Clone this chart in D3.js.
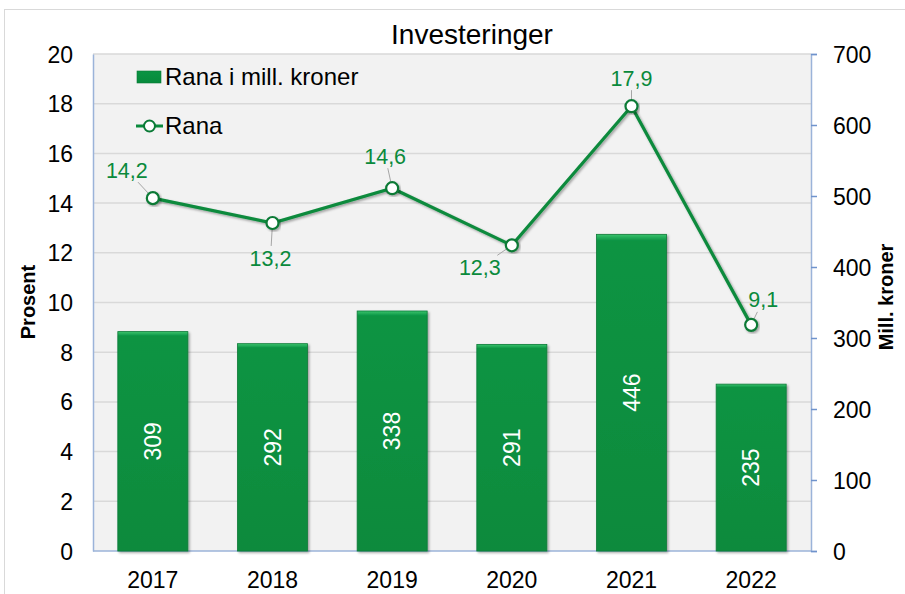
<!DOCTYPE html>
<html><head><meta charset="utf-8">
<script src="https://cdn.jsdelivr.net/npm/d3@7"></script>
<style>body{margin:0;background:#fff;font-family:"Liberation Sans",Arial,sans-serif;}</style>
</head><body><svg id="c" width="905" height="594"></svg>
<script>
const years = ["2017","2018","2019","2020","2021","2022"];
const millKroner = [309,292,338,291,446,235];
const prosent = [14.2,13.2,14.6,12.3,17.9,9.1];
const leftTicks = [0,2,4,6,8,10,12,14,16,18,20];
const rightTicks = [0,100,200,300,400,500,600,700];
// label offsets for line data labels [dx, dy]
const lblPos = [[-26,-28],[-2,35],[-7,-32],[-32,22],[0,-28],[12,-25]];

const svg = d3.select("#c");
const m = {l:93, r:811, t:54, b:551};
svg.append("rect").attr("x",4.5).attr("y",9.5).attr("width",905).attr("height",600)
  .attr("fill","#fff").attr("stroke","#d9d9d9");
const defs = svg.append("defs");
const g1 = defs.append("linearGradient").attr("id","bg").attr("x1",0).attr("x2",0).attr("y1",0).attr("y2",1);
g1.append("stop").attr("offset",0).attr("stop-color","#3cc46e");
g1.append("stop").attr("offset",0.02).attr("stop-color","#0a9443");
g1.append("stop").attr("offset",1).attr("stop-color","#078a3c");
const f = defs.append("filter").attr("id","sh").attr("x",-0.2).attr("y",-0.2).attr("width",1.4).attr("height",1.4);
f.append("feDropShadow").attr("dx",1.5).attr("dy",1.5).attr("stdDeviation",1.2).attr("flood-color","#000").attr("flood-opacity",0.35);

const x = d3.scaleBand().domain(years).range([m.l,m.r]).paddingInner(0.415).paddingOuter(0.2075);
const yL = d3.scaleLinear().domain([0,20]).range([m.b,m.t]);
const yR = d3.scaleLinear().domain([0,700]).range([m.b,m.t]);
const xc = d => x(d)+x.bandwidth()/2;
const FF = "Liberation Sans, Arial";

svg.append("rect").attr("x",m.l).attr("y",m.t).attr("width",m.r-m.l).attr("height",m.b-m.t).attr("fill","#f2f2f2");
svg.append("g").selectAll("line").data(leftTicks.slice(1)).join("line")
  .attr("x1",m.l).attr("x2",m.r).attr("y1",d=>yL(d)).attr("y2",d=>yL(d))
  .attr("stroke","#d9d9d9").attr("stroke-width",1.5);

// left axis
const ax = svg.append("g").attr("transform",`translate(${m.l},0)`)
  .call(d3.axisLeft(yL).tickValues(leftTicks).tickSize(0).tickPadding(20).tickFormat(d3.format("d")));
ax.select(".domain").attr("stroke","#9bb3d9").attr("stroke-width",1.5);
ax.selectAll("text").attr("font-size",23).attr("fill","#000").attr("font-family",FF).attr("dy","0.35em");

// right axis
const axR = svg.append("g").attr("transform",`translate(${m.r},0)`)
  .call(d3.axisRight(yR).tickValues(rightTicks).tickSize(6).tickPadding(16).tickFormat(d3.format("d")));
axR.select(".domain").attr("stroke","#9bb3d9").attr("stroke-width",1.5);
axR.selectAll("line").attr("stroke","#6f93cc").attr("stroke-width",1.5);
axR.selectAll("text").attr("font-size",23).attr("fill","#000").attr("font-family",FF).attr("dy","0.35em");

// bottom axis line
svg.append("line").attr("x1",m.l).attr("x2",m.r).attr("y1",m.b).attr("y2",m.b).attr("stroke","#9bb3d9").attr("stroke-width",1.5);
svg.append("g").selectAll("text").data(years).join("text")
  .attr("x",d=>xc(d)).attr("y",588).attr("text-anchor","middle").attr("font-size",23).text(d=>d);

// bars
svg.append("g").selectAll("rect").data(years).join("rect")
  .attr("x",d=>x(d)).attr("width",x.bandwidth())
  .attr("y",(d,i)=>yR(millKroner[i])).attr("height",(d,i)=>yR(0)-yR(millKroner[i]))
  .attr("fill","url(#bg)").attr("stroke","#0b7a37").attr("stroke-width",0.8).attr("filter","url(#sh)");
svg.append("g").selectAll("text").data(years).join("text")
  .attr("transform",(d,i)=>`translate(${xc(d)+8},${(yR(millKroner[i])+yR(0))/2}) rotate(-90)`)
  .attr("text-anchor","middle").attr("font-size",23).attr("fill","#fff").text((d,i)=>millKroner[i]);

// line
const line = d3.line().x((d,i)=>xc(years[i])).y(d=>yL(d));
svg.append("path").datum(prosent).attr("d",line).attr("fill","none")
  .attr("stroke","#0a8a3c").attr("stroke-width",3.2).attr("filter","url(#sh)");
// leader lines & labels
const fmt = v => d3.format(".1f")(v).replace(".",",");
prosent.forEach((v,i)=>{
  const cx = xc(years[i]), cy = yL(v), p = lblPos[i];
  const tx = cx+p[0], ty = cy+p[1];
  const t = Math.min(24/Math.max(Math.abs(p[0]),0.001), 12/Math.max(Math.abs(p[1]),0.001));
  svg.append("line").attr("x1",cx).attr("y1",cy).attr("x2",tx-p[0]*t).attr("y2",ty-p[1]*t)
    .attr("stroke","#a6a6a6").attr("stroke-width",1);
  svg.append("text").attr("x",tx).attr("y",ty).attr("dy","0.35em").attr("text-anchor","middle")
    .attr("font-size",21.5).attr("fill","#0a8a3c").text(fmt(v));
});
svg.append("g").selectAll("circle").data(prosent).join("circle")
  .attr("cx",(d,i)=>xc(years[i])).attr("cy",d=>yL(d)).attr("r",6)
  .attr("fill","#fff").attr("stroke","#0a7a36").attr("stroke-width",2.2).attr("filter","url(#sh)");

// title
svg.append("text").attr("x",472).attr("y",44).attr("text-anchor","middle").attr("font-size",28).text("Investeringer");
// axis titles
svg.append("text").attr("transform","translate(35,302) rotate(-90)").attr("text-anchor","middle")
  .attr("font-size",20).attr("font-weight","bold").text("Prosent");
svg.append("text").attr("transform","translate(893,297) rotate(-90)").attr("text-anchor","middle")
  .attr("font-size",20).attr("font-weight","bold").text("Mill. kroner");

// legend
svg.append("rect").attr("x",137).attr("y",71).attr("width",24).attr("height",12).attr("fill","url(#bg)").attr("stroke","#0b7a37").attr("stroke-width",0.6);
svg.append("text").attr("x",165).attr("y",77).attr("dy","0.35em").attr("font-size",24).text("Rana i mill. kroner");
svg.append("line").attr("x1",136).attr("x2",163).attr("y1",126).attr("y2",126).attr("stroke","#0a8a3c").attr("stroke-width",3);
svg.append("circle").attr("cx",149.5).attr("cy",126).attr("r",5.5).attr("fill","#fff").attr("stroke","#0a7a36").attr("stroke-width",2);
svg.append("text").attr("x",165).attr("y",126).attr("dy","0.35em").attr("font-size",24).text("Rana");
</script></body></html>
